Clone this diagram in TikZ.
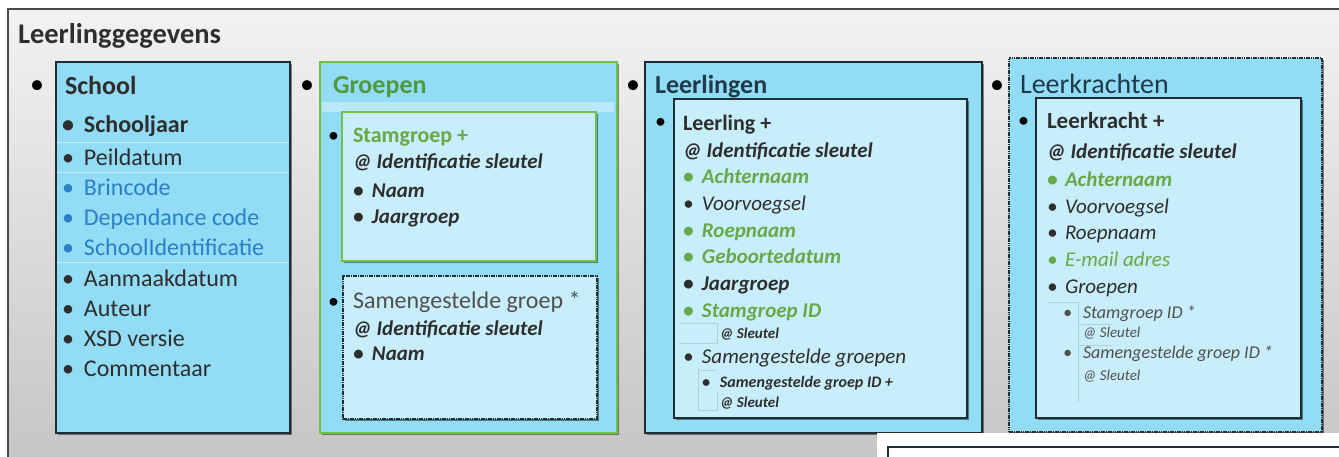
\documentclass[tikz,border=0pt]{standalone}
\usepackage{fontspec}
\setmainfont{Carlito}
\usetikzlibrary{shadows}
\definecolor{boxblue}{HTML}{93DCF6}
\definecolor{innerblue}{HTML}{C8EEFB}
\definecolor{darkline}{HTML}{1E2C34}
\definecolor{frameline}{HTML}{4A4A4A}
\definecolor{grnline}{HTML}{72C04A}
\definecolor{grntitle}{HTML}{4E9B3E}
\definecolor{grnitem}{HTML}{67A848}
\definecolor{blueitem}{HTML}{2A7FC6}
\definecolor{tealtxt}{HTML}{1D3B4A}
\definecolor{graytxt}{HTML}{505050}
\definecolor{darktxt}{HTML}{2E2E2E}
\definecolor{treeline}{HTML}{B0CFD9}
\newcommand\fsTitle{\fontsize{28.5}{32}\selectfont}
\newcommand\fsHead{\fontsize{26}{30}\selectfont}
\newcommand\fsItem{\fontsize{24}{28}\selectfont}
\newcommand\fsMid{\fontsize{22}{26}\selectfont}
\newcommand\fsSub{\fontsize{21}{25}\selectfont}
\newcommand\fsSmall{\fontsize{16}{19}\selectfont}
\newcommand\fsSmallK{\fontsize{18}{21}\selectfont}
\newcommand\fsTiny{\fontsize{15}{18}\selectfont}
\newcommand\bl[1]{\makebox[#1][l]{\textbullet}}
\begin{document}
\begin{tikzpicture}[x=1pt,y=-1pt,
  tx/.style={anchor=base west,inner sep=0pt,outer sep=0pt},
  panel/.style={anchor=north west,inner sep=0pt,outer sep=0pt,line width=1.8pt,
    drop shadow={shadow xshift=2pt,shadow yshift=-2pt,opacity=.45,fill=black}},
  outerbox/.style={panel,draw=darkline,fill=boxblue},
  innerbox/.style={panel,draw=darkline,fill=innerblue},
  greenbox/.style={panel,draw=grnline,line width=2.2pt},
  dotbox/.style={panel,draw=darkline,dash pattern=on 1.6pt off 0.7pt},
  tree/.style={draw=treeline,line width=0.8pt}]
\useasboundingbox (0,0) rectangle (1339,456);
\clip (0,0) rectangle (1339,456);
\fill[white] (0,0) rectangle (1339,456);
% outer frame
\fill[top color=gray!10,bottom color=gray!45] (8,9) rectangle (1345,458);
\draw[frameline,line width=2pt] (8,470) -- (8,9) -- (1345,9);
\node[tx] (title) at (18,43) {\fsTitle\bfseries\color{darktxt}Leerlinggegevens};

% top-level bullets
\node[tx] (tb1) at (30,93) {\fontsize{28}{30}\selectfont\textbullet};
\node[tx] (tb2) at (300,93) {\fontsize{28}{30}\selectfont\textbullet};
\node[tx] (tb3) at (626,93) {\fontsize{28}{30}\selectfont\textbullet};
\node[tx] (tb4) at (990,93) {\fontsize{28}{30}\selectfont\textbullet};

% ===== School =====
\node[outerbox,minimum width=234pt,minimum height=371pt] (school) at (56,62) {};
\draw[white,opacity=.45,line width=1pt] (57,142) -- (289,142);
\draw[white,opacity=.45,line width=1pt] (57,172) -- (289,172);
\draw[white,opacity=.45,line width=1pt] (57,262) -- (289,262);
\node[tx] (st) at (65,94) {\fsHead\bfseries\color{darktxt}School};
\node[tx] (s1) at (62,132) {\fsItem\bfseries\color{darktxt}\bl{22pt}Schooljaar};
\node[tx] (s2) at (62,165) {\fsItem\color{darktxt}\bl{22pt}Peildatum};
\node[tx] (s3) at (62,195) {\fsItem\color{blueitem}\bl{22pt}Brincode};
\node[tx] (s4) at (62,225) {\fsItem\color{blueitem}\bl{22pt}Dependance code};
\node[tx] (s5) at (62,255) {\fsItem\color{blueitem}\bl{22pt}SchoolIdentificatie};
\node[tx] (s6) at (62,286) {\fsItem\color{darktxt}\bl{22pt}Aanmaakdatum};
\node[tx] (s7) at (62,316) {\fsItem\color{darktxt}\bl{22pt}Auteur};
\node[tx] (s8) at (62,346) {\fsItem\color{darktxt}\bl{22pt}XSD versie};
\node[tx] (s9) at (62,376) {\fsItem\color{darktxt}\bl{22pt}Commentaar};

% ===== Groepen =====
\node[greenbox,fill=boxblue,minimum width=297pt,minimum height=371pt] (groepen) at (320,62) {};
\fill[white,opacity=.35] (322,102) rectangle (614,112);
\node[tx] (gt) at (333,93) {\fsHead\bfseries\color{grntitle}Groepen};
\node[greenbox,fill=innerblue,minimum width=254pt,minimum height=149pt] (stam) at (342,112) {};
\node[dotbox,fill=innerblue,minimum width=254pt,minimum height=143pt] (samen) at (343,276) {};
\node[tx] (gb1) at (328,142) {\fsMid\textbullet};
\node[tx] (g1) at (353,142) {\fsMid\bfseries\color{grnitem}Stamgroep +};
\node[tx] (g2) at (353,168) {\fsSub\bfseries\itshape\color{darktxt}@ Identificatie sleutel};
\node[tx] (g3) at (353,197) {\fsSub\bfseries\itshape\color{darktxt}\bl{19pt}Naam};
\node[tx] (g4) at (353,223) {\fsSub\bfseries\itshape\color{darktxt}\bl{19pt}Jaargroep};
\node[tx] (gb2) at (328,308) {\fsMid\textbullet};
\node[tx] (g5) at (353,308) {\fsItem\color{graytxt}Samengestelde groep *};
\node[tx] (g6) at (353,335) {\fsSub\bfseries\itshape\color{darktxt}@ Identificatie sleutel};
\node[tx] (g7) at (353,360) {\fsSub\bfseries\itshape\color{darktxt}\bl{19pt}Naam};

% ===== Leerlingen =====
\node[outerbox,minimum width=337pt,minimum height=371pt] (leerlingen) at (645,62) {};
\node[tx] (lt) at (655,93) {\fsHead\bfseries\color{tealtxt}Leerlingen};
\node[innerbox,minimum width=293pt,minimum height=319pt] (leerling) at (674,99) {};
\node[tx] (lb) at (655,128) {\fsMid\textbullet};
\draw[tree] (679,323) -- (717,323) -- (717,343) -- (679,343);
\draw[tree] (698,368) -- (698,410) -- (717,410) -- (717,392);
\draw[tree] (698,370) -- (717,370);
\node[tx] (l0) at (683,130) {\fsMid\bfseries\color{darktxt}Leerling +};
\node[tx] (l1) at (683,157) {\fsSub\bfseries\itshape\color{darktxt}@ Identificatie sleutel};
\node[tx] (l2) at (683,183) {\fsSub\bfseries\itshape\color{grnitem}\bl{19pt}Achternaam};
\node[tx] (l3) at (683,210) {\fsSub\itshape\color{darktxt}\bl{19pt}Voorvoegsel};
\node[tx] (l4) at (683,237) {\fsSub\bfseries\itshape\color{grnitem}\bl{19pt}Roepnaam};
\node[tx] (l5) at (683,263) {\fsSub\bfseries\itshape\color{grnitem}\bl{19pt}Geboortedatum};
\node[tx] (l6) at (683,290) {\fsSub\bfseries\itshape\color{darktxt}\bl{19pt}Jaargroep};
\node[tx] (l7) at (683,317) {\fsSub\bfseries\itshape\color{grnitem}\bl{19pt}Stamgroep ID};
\node[tx] (l8) at (720,338) {\fsTiny\bfseries\itshape\color{darktxt}@ Sleutel};
\node[tx] (l9) at (683,363) {\fsSub\itshape\color{darktxt}\bl{19pt}Samengestelde groepen};
\node[tx] (l10) at (702,387) {\fsSmall\bfseries\itshape\color{darktxt}\bl{18pt}Samengestelde groep ID +};
\node[tx] (l11) at (720,407) {\fsTiny\bfseries\itshape\color{darktxt}@ Sleutel};

% ===== Leerkrachten =====
\node[dotbox,fill=boxblue,minimum width=313pt,minimum height=374pt] (leerkrachten) at (1009,58) {};
\node[tx] (kt) at (1020,93) {\fontsize{28}{32}\selectfont\color{tealtxt}Leerkrachten};
\node[innerbox,minimum width=265pt,minimum height=320pt] (leerkracht) at (1036,98) {};
\node[tx] (kb) at (1018,127) {\fsMid\textbullet};
\draw[tree] (1047,302) -- (1078,302) -- (1078,402);
\draw[tree] (1078,324) -- (1112,324);
\draw[tree] (1078,345) -- (1112,345);
\node[tx] (k0) at (1047,128) {\fontsize{23}{27}\selectfont\bfseries\color{darktxt}Leerkracht +};
\node[tx] (k1) at (1047,158) {\fsSub\bfseries\itshape\color{darktxt}@ Identificatie sleutel};
\node[tx] (k2) at (1047,186) {\fsSub\bfseries\itshape\color{grnitem}\bl{18pt}Achternaam};
\node[tx] (k3) at (1047,213) {\fsSub\itshape\color{darktxt}\bl{18pt}Voorvoegsel};
\node[tx] (k4) at (1047,239) {\fsSub\itshape\color{darktxt}\bl{18pt}Roepnaam};
\node[tx] (k5) at (1047,266) {\fsSub\itshape\color{grnitem}\bl{18pt}E-mail adres};
\node[tx] (k6) at (1047,293) {\fsSub\itshape\color{darktxt}\bl{18pt}Groepen};
\node[tx] (k7) at (1063,318) {\fsSmallK\itshape\color{graytxt}\bl{20pt}Stamgroep ID *};
\node[tx] (k8) at (1083,337) {\fsTiny\itshape\color{graytxt}@ Sleutel};
\node[tx] (k9) at (1063,358) {\fsSmallK\itshape\color{graytxt}\bl{20pt}Samengestelde groep ID *};
\node[tx] (k10) at (1083,380) {\fsTiny\itshape\color{graytxt}@ Sleutel};

% ===== bottom-right panel edge =====
\fill[white] (877,433) rectangle (1340,457);
\draw[darkline,line width=2pt] (888,458) -- (888,447) -- (1341,447);
\end{tikzpicture}
\end{document}
